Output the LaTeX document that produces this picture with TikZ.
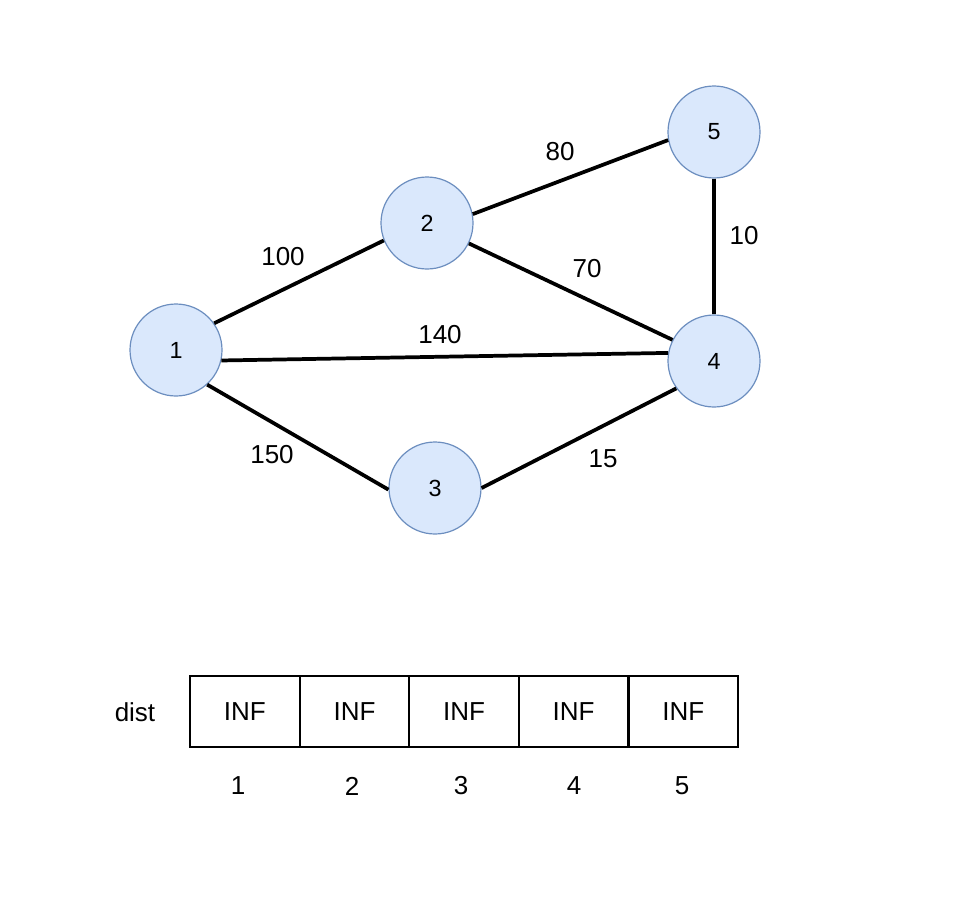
\documentclass[tikz,border=0pt]{standalone}
\usepackage{fontspec}
\setmainfont{Liberation Sans}
\definecolor{nodefill}{HTML}{DAE8FC}
\definecolor{nodeline}{HTML}{6C8EBF}
\begin{document}
\begin{tikzpicture}[x=0.75pt,y=-0.75pt,
  vtx/.style={circle,draw=nodeline,fill=nodefill,line width=0.9pt,minimum size=69pt,inner sep=0pt,font=\fontsize{17.5}{20}\selectfont},
  edge/.style={line width=2.8pt,black},
  wlab/.style={font=\fontsize{19.5}{22}\selectfont,inner sep=0pt},
  cell/.style={draw=black,line width=1.6pt,minimum width=82.2pt,minimum height=53pt,inner sep=0pt,font=\fontsize{19.5}{22}\selectfont,anchor=north west},
  idx/.style={font=\fontsize{19.5}{22}\selectfont,inner sep=0pt}]
\useasboundingbox (0,0) rectangle (956,906);
\node[vtx] (n1) at (176,350) {1};
\node[vtx] (n2) at (427,223) {2};
\node[vtx] (n3) at (435,488) {3};
\node[vtx] (n4) at (714,361) {4};
\node[vtx] (n5) at (714,132) {5};
\draw[edge] (n1.35) -- (n2.202);
\draw[edge] (n1.-13) -- (n4.170);
\draw[edge] (n1.-48) -- (n3.182);
\draw[edge] (n3.0) -- (n4.216);
\draw[edge] (n2.-26) -- (n4.153);
\draw[edge] (n2.11) -- (n5.190);
\draw[edge] (n5.south) -- (n4.north);
\node[wlab] (w12) at (283,257) {100};
\node[wlab] (w25) at (560,152) {80};
\node[wlab] (w24) at (587,269) {70};
\node[wlab] (w54) at (744,236) {10};
\node[wlab] (w14) at (440,335) {140};
\node[wlab] (w13) at (272,455) {150};
\node[wlab] (w34) at (603,459) {15};
\node[idx] (distlab) at (135,712) {dist};
\node[cell] (c1) at (189,675) {INF};
\node[cell] (c2) at (298.6,675) {INF};
\node[cell] (c3) at (408.2,675) {INF};
\node[cell] (c4) at (517.8,675) {INF};
\node[cell] (c5) at (627.4,675) {INF};
\node[idx] (i1) at (238,786) {1};
\node[idx] (i2) at (352,786) {2};
\node[idx] (i3) at (461,786) {3};
\node[idx] (i4) at (574,786) {4};
\node[idx] (i5) at (682,786) {5};
\end{tikzpicture}
\end{document}
